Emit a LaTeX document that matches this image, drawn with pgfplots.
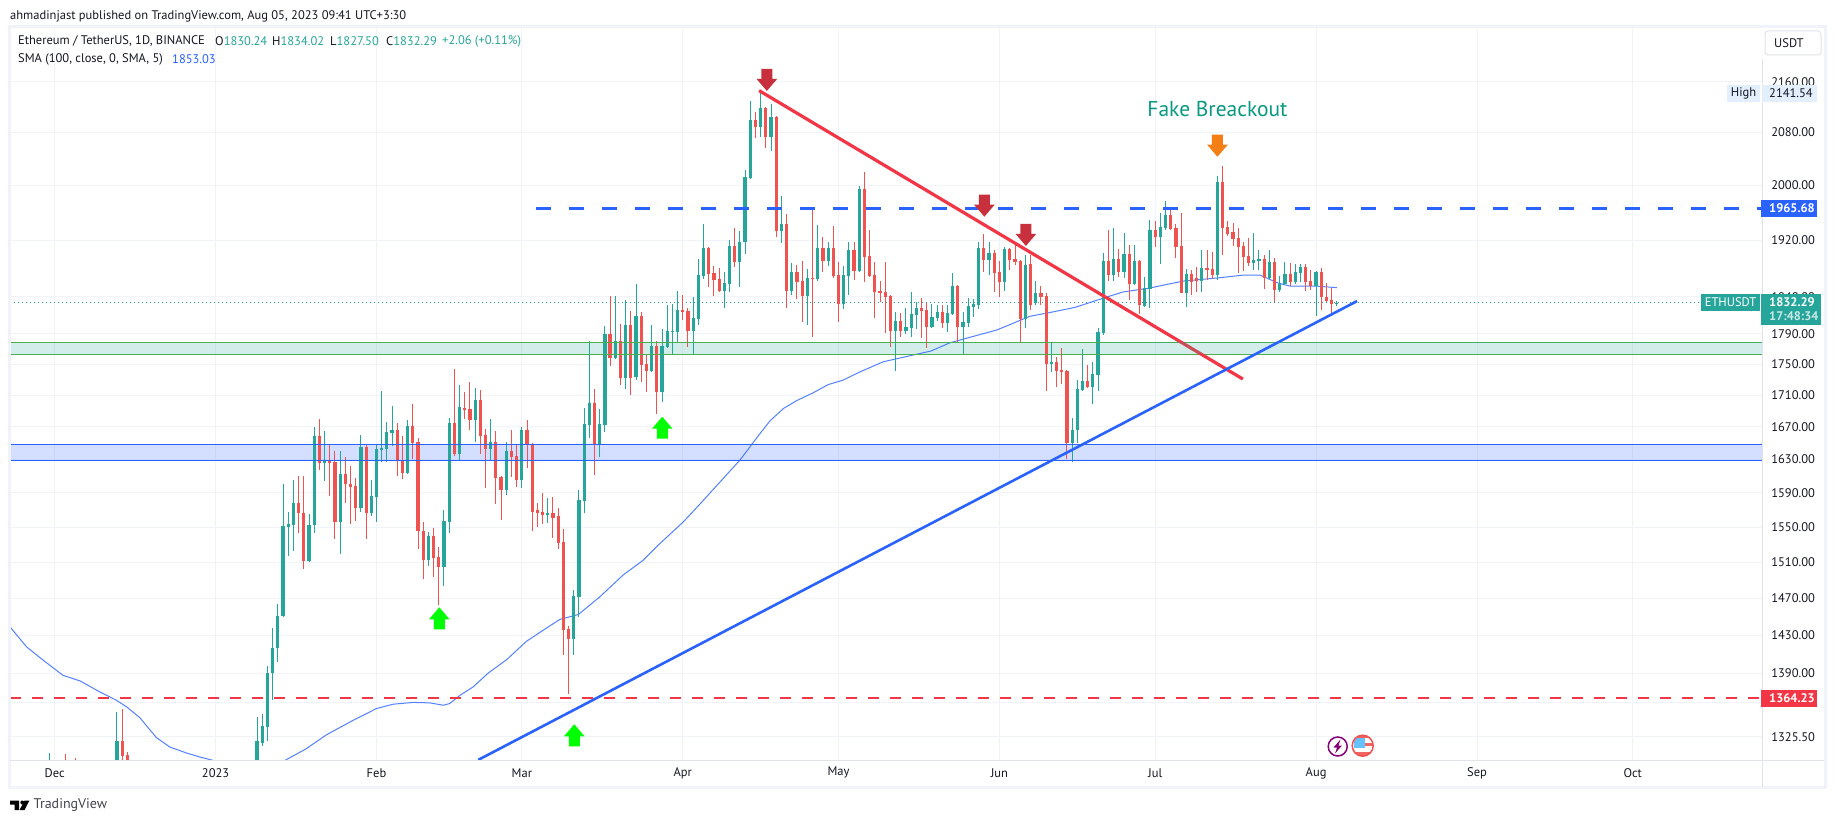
\documentclass[border=0pt]{standalone}
\usepackage{fontspec}
\setmainfont{PT Sans}
\usepackage{pgfplots}
\usepackage{pgfplotstable}
\pgfplotsset{compat=1.18}

\definecolor{tvgreen}{HTML}{26A69A}
\definecolor{tvred}{HTML}{EF5350}
\definecolor{tvblue}{HTML}{2962FF}
\definecolor{lineRed}{HTML}{F23645}
\definecolor{bandGreen}{HTML}{4CAF50}
\definecolor{gridc}{HTML}{F0F3FA}
\definecolor{framec}{HTML}{F0F3FA}
\definecolor{axisc}{HTML}{E0E3EB}
\definecolor{ink}{HTML}{131722}
\definecolor{arrowRed}{HTML}{C9303E}
\definecolor{arrowOrange}{HTML}{F57F17}
\definecolor{arrowGreen}{HTML}{00FF00}
\definecolor{highTag}{HTML}{E3EFFD}
\definecolor{fakeText}{HTML}{089981}

% tip of the arrow sits on the point
\pgfdeclareplotmark{dnarrow}{%
  \pgfpathmoveto{\pgfqpoint{0pt}{0pt}}%
  \pgfpathlineto{\pgfqpoint{10.3pt}{12pt}}%
  \pgfpathlineto{\pgfqpoint{5.5pt}{12pt}}%
  \pgfpathlineto{\pgfqpoint{5.5pt}{22pt}}%
  \pgfpathlineto{\pgfqpoint{-5.5pt}{22pt}}%
  \pgfpathlineto{\pgfqpoint{-5.5pt}{12pt}}%
  \pgfpathlineto{\pgfqpoint{-10.3pt}{12pt}}%
  \pgfpathclose\pgfusepathqfill}
\pgfdeclareplotmark{uparrow}{%
  \pgfpathmoveto{\pgfqpoint{0pt}{0pt}}%
  \pgfpathlineto{\pgfqpoint{10.3pt}{-12pt}}%
  \pgfpathlineto{\pgfqpoint{5.5pt}{-12pt}}%
  \pgfpathlineto{\pgfqpoint{5.5pt}{-22pt}}%
  \pgfpathlineto{\pgfqpoint{-5.5pt}{-22pt}}%
  \pgfpathlineto{\pgfqpoint{-5.5pt}{-12pt}}%
  \pgfpathlineto{\pgfqpoint{-10.3pt}{-12pt}}%
  \pgfpathclose\pgfusepathqfill}

% x is the day counted from 1 Jan 2023
\pgfplotstableread{
d o h l c
-32 1285 1310 1280 1295
-19 1285 1350 1280 1321
8 1290 1345 1285 1321
9 1320 1348 1317 1336
10 1335 1398 1321 1390
11 1390 1438 1362 1416
12 1416 1464 1402 1451
13 1450 1600 1449 1551
14 1550 1567 1517 1553
15 1552 1605 1523 1578
18 1511 1565 1510 1552
19 1552 1670 1543 1659
21 1626 1665 1604 1628
24 1556 1641 1519 1612
28 1572 1660 1568 1645
30 1566 1605 1563 1586
31 1585 1649 1556 1643
32 1642 1715 1627 1644
33 1643 1676 1627 1664
34 1663 1696 1647 1667
37 1614 1679 1613 1671
41 1512 1544 1506 1540
44 1505 1570 1483 1557
45 1556 1681 1543 1675
47 1637 1723 1630 1695
50 1679 1720 1651 1704
53 1643 1680 1629 1651
56 1594 1651 1588 1641
59 1605 1670 1596 1666
64 1564 1584 1555 1566
69 1426 1479 1409 1472
70 1471 1594 1449 1581
71 1580 1694 1566 1674
72 1672 1781 1656 1700
74 1649 1692 1633 1674
75 1672 1801 1664 1790
77 1758 1841 1757 1781
79 1732 1836 1718 1802
81 1733 1858 1730 1814
84 1741 1802 1740 1774
86 1714 1797 1701 1774
87 1773 1829 1772 1794
88 1793 1830 1763 1794
89 1793 1848 1779 1822
92 1794 1840 1763 1811
93 1810 1893 1802 1870
94 1869 1943 1865 1908
98 1848 1875 1825 1859
99 1858 1920 1847 1911
101 1889 1933 1854 1918
102 1917 2023 1900 2012
103 2011 2130 2009 2100
105 2089 2141.54 2073 2118
107 2073 2125 2052 2104
109 1933 1984 1916 1943
111 1848 1887 1843 1875
114 1841 1879 1802 1866
116 1865 1942 1862 1908
118 1890 1918 1883 1908
121 1830 1883 1824 1870
122 1869 1917 1843 1906
124 1876 1999 1875 1994
131 1794 1820 1741 1807
133 1794 1825 1790 1799
134 1798 1847 1786 1817
135 1815 1833 1797 1825
138 1799 1830 1798 1813
139 1811 1829 1807 1820
141 1805 1829 1793 1818
142 1817 1873 1815 1855
144 1799 1820 1763 1806
145 1805 1839 1799 1828
146 1826 1837 1813 1830
147 1829 1918 1824 1908
149 1892 1917 1870 1901
152 1861 1910 1848 1907
156 1810 1899 1798 1884
158 1832 1862 1829 1845
161 1750 1779 1740 1753
165 1650 1681 1627 1667
166 1666 1730 1650 1718
167 1717 1770 1715 1728
169 1721 1753 1699 1737
170 1736 1798 1715 1793
171 1791 1901 1789 1890
173 1870 1937 1862 1893
175 1875 1930 1866 1900
177 1858 1913 1857 1890
179 1828 1868 1827 1852
180 1851 1949 1825 1934
182 1924 1959 1886 1939
183 1937 1977 1934 1956
187 1846 1879 1826 1872
190 1862 1906 1847 1880
193 1870 2014 1864 2005
200 1887 1930 1877 1891
201 1890 1906 1877 1893
203 1866 1906 1865 1889
205 1850 1869 1847 1858
206 1858 1889 1857 1872
208 1861 1886 1858 1875
209 1873 1886 1861 1882
212 1855 1876 1814 1875
216 1830.24 1834.02 1827.50 1832.29
}\upcandles

\pgfplotstableread{
d o h l c
-29 1295 1309 1280 1285
-27 1295 1305 1280 1285
-18 1321 1353 1280 1307
-17 1308 1311 1280 1285
16 1578 1610 1543 1566
17 1566 1610 1502 1511
20 1659 1680 1617 1626
22 1628 1649 1586 1626
23 1627 1641 1536 1556
25 1612 1633 1578 1601
26 1601 1622 1554 1597
27 1598 1608 1557 1572
29 1645 1648 1536 1566
35 1667 1675 1610 1628
36 1629 1659 1606 1614
38 1671 1699 1631 1650
39 1651 1656 1525 1546
40 1546 1556 1491 1512
42 1540 1549 1493 1515
43 1516 1527 1462 1505
46 1675 1744 1634 1637
48 1694 1714 1680 1691
49 1692 1727 1666 1679
51 1704 1717 1637 1659
52 1660 1667 1596 1643
54 1651 1665 1577 1608
55 1609 1610 1558 1594
57 1641 1666 1609 1633
58 1634 1648 1597 1605
60 1666 1679 1620 1648
61 1649 1650 1545 1568
62 1570 1578 1550 1566
63 1567 1590 1554 1564
65 1566 1585 1537 1561
66 1563 1572 1525 1532
67 1533 1548 1409 1436
68 1437 1440 1369 1426
73 1700 1718 1611 1649
76 1790 1841 1748 1758
78 1781 1803 1723 1732
80 1802 1821 1710 1732
82 1814 1820 1727 1749
83 1750 1763 1714 1741
85 1774 1781 1686 1714
90 1822 1843 1809 1820
91 1821 1825 1773 1794
95 1908 1910 1854 1872
96 1873 1883 1841 1864
97 1865 1880 1847 1848
100 1911 1937 1882 1889
104 2100 2112 2072 2089
106 2118 2120 2056 2073
108 2104 2105 1924 1933
110 1943 1958 1825 1848
112 1875 1884 1837 1861
113 1862 1890 1806 1841
115 1866 1965 1786 1865
117 1908 1924 1875 1890
119 1908 1940 1866 1869
120 1870 1889 1806 1830
123 1906 1917 1864 1876
125 1994 2020 1861 1896
126 1897 1934 1868 1869
127 1870 1889 1811 1847
128 1848 1862 1833 1846
129 1847 1889 1791 1840
130 1841 1843 1773 1794
132 1807 1818 1786 1794
136 1825 1839 1785 1821
137 1822 1832 1771 1799
140 1820 1829 1798 1805
143 1855 1856 1778 1799
148 1908 1929 1875 1892
150 1901 1906 1847 1873
151 1875 1890 1840 1861
153 1907 1909 1877 1892
154 1893 1914 1884 1889
155 1890 1892 1778 1810
157 1886 1899 1822 1829
159 1845 1855 1829 1840
160 1841 1846 1716 1750
162 1753 1759 1721 1741
163 1743 1771 1724 1740
164 1741 1742 1631 1650
168 1728 1749 1720 1721
172 1890 1934 1862 1870
174 1893 1907 1868 1875
176 1900 1913 1836 1858
178 1890 1891 1817 1829
181 1934 1947 1910 1924
184 1956 1968 1934 1936
185 1937 1943 1894 1910
186 1911 1959 1845 1846
188 1872 1877 1843 1861
189 1866 1882 1847 1862
191 1880 1906 1864 1877
192 1879 1903 1865 1870
194 2005 2029 1899 1937
195 1939 1947 1926 1929
196 1931 1944 1911 1921
197 1923 1937 1873 1910
198 1911 1917 1876 1896
199 1897 1923 1883 1887
202 1893 1899 1851 1866
204 1889 1894 1833 1850
207 1872 1887 1855 1861
210 1882 1886 1848 1861
211 1862 1877 1850 1855
213 1875 1880 1822 1840
214 1840 1859 1833 1835
215 1836 1852 1817 1830.24
}\downcandles

\pgfplotstableread{
d p
-39.6 1438.8
-36.4 1417.5
-33.2 1403.5
-29.4 1387.8
-26.1 1382
-22.3 1370.7
-19.1 1362.2
-17.1 1355.4
-14.6 1344.7
-11.4 1324.8
-8.8 1315.5
-5.6 1309.7
-3 1305.8
-0.5 1302.5
3 1298
8 1292
13.4 1302.5
17.5 1314
21.4 1327.7
26.5 1342
31 1353.8
34.2 1358.2
38.1 1360
41.3 1359.5
43.9 1357.1
45.1 1358.9
47.1 1367.3
49.6 1375.8
52.5 1390
56.1 1404.2
59.9 1423.5
63.1 1435.2
66.3 1446.8
69.9 1452.2
74 1471.3
78.5 1495.4
82.4 1512.2
85.6 1531.1
90.1 1556
93.3 1576.7
97.2 1603.2
101 1629.3
104.9 1662.1
106.8 1677.7
109.4 1693.3
111.9 1703
115.1 1713.2
118 1723.6
120.9 1729.5
124.1 1740
128.6 1753.3
137.8 1767.4
141.5 1778.4
150.5 1795.3
156.9 1814
160.7 1819
165.6 1826
171.7 1840
174.8 1846.9
180 1852.4
186.4 1862.1
192.9 1866.3
197.9 1870.4
201.2 1870.4
204.7 1859.3
207 1855.2
212.2 1855.2
216 1853.03
}\smaline

\newcommand{\candles}[2]{%
  \addplot[draw=none, mark=none, error bars/.cd, y dir=plus, y explicit, error mark=none,
    error bar style={draw=#2, solid, line width=1pt}]
    table[x=d, y=l, y error expr=\thisrow{h}-\thisrow{l}] {#1};
  \addplot[draw=none, mark=none, error bars/.cd, y dir=plus, y explicit, error mark=none,
    error bar style={draw=#2, solid, line width=3.2pt}]
    table[x=d, y expr={min(\thisrow{o},\thisrow{c})}, y error expr={abs(\thisrow{c}-\thisrow{o})}] {#1};
}

\begin{document}
\fontsize{12.5}{14}\selectfont
\begin{tikzpicture}
\path[use as bounding box, fill=white] (0,0) rectangle (1835pt,823pt);

\begin{axis}[
    at={(10pt,63pt)}, anchor=south west,
    scale only axis, width=1752pt, height=733pt,
    ymode=log,
    xmin=-39.6, xmax=297.9, ymin=1303, ymax=2250.4,
    axis line style={draw=none},
    major tick length=0pt, minor tick length=0pt,
    grid=major,
    grid style={draw=gridc, line width=1pt},
    xtick={-31,0,31,59,90,120,151,181,212,243,273},
    xticklabels={Dec,2023,Feb,Mar,Apr,May,Jun,Jul,Aug,Sep,Oct},
    ytick={2160,2080,2000,1920,1840,1790,1750,1710,1670,1630,1590,1550,1510,1470,1430,1390,1360,1325.5},
    yticklabels={2160.00,2080.00,2000.00,1920.00,1840.00,1790.00,1750.00,1710.00,1670.00,1630.00,1590.00,1550.00,1510.00,1470.00,1430.00,1390.00,1360.00,1325.50},
    yticklabel pos=right,
    xticklabel style={anchor=center, yshift=-13pt, text=ink, font=\fontsize{12.5}{14}\selectfont},
    yticklabel style={anchor=west, xshift=5pt, text=ink, font=\fontsize{12.5}{14}\selectfont},
    clip=true,
]

% blue zone and the left part of the green zone sit under the candles
\addplot[draw=none, fill=tvgreen, fill opacity=0.2] coordinates {(-39.6,1779)(172,1779)(172,1763)(-39.6,1763)} -- cycle;
\addplot[draw=none, fill=tvblue, fill opacity=0.2] coordinates {(-39.6,1648.6)(297.9,1648.6)(297.9,1629.5)(-39.6,1629.5)} -- cycle;

\addplot[tvgreen, line width=1pt, dash pattern=on 1pt off 3pt] coordinates {(-39.6,1832.29)(297.9,1832.29)};

\addplot[tvblue, line width=1pt, opacity=0.8] table[x=d, y=p] {\smaline};

\candles{\upcandles}{tvgreen}
\candles{\downcandles}{tvred}

% zones' borders
\addplot[bandGreen, line width=0.9pt] coordinates {(-39.6,1779)(297.9,1779)};
\addplot[bandGreen, line width=0.9pt] coordinates {(-39.6,1763)(297.9,1763)};
\addplot[tvblue, line width=0.9pt] coordinates {(-39.6,1648.6)(297.9,1648.6)};
\addplot[tvblue, line width=0.9pt] coordinates {(-39.6,1629.5)(297.9,1629.5)};

% resistance and support
\addplot[lineRed, line width=3.2pt] coordinates {(104.7,2146)(197.9,1731)};
\addplot[draw=none, fill=tvgreen, fill opacity=0.2] coordinates {(172,1779)(297.9,1779)(297.9,1763)(172,1763)} -- cycle;
\addplot[tvblue, line width=2.6pt] coordinates {(50.6,1303)(219.9,1834.5)};
\addplot[tvblue, line width=3pt, dash pattern=on 15pt off 18pt] coordinates {(61.7,1965.68)(297.9,1965.68)};
\addplot[lineRed, line width=2pt, dash pattern=on 11pt off 11pt] coordinates {(-39.6,1364.23)(297.9,1364.23)};

% arrows
\addplot[only marks, mark=dnarrow, color=arrowRed, mark options={fill=arrowRed, draw=none}] coordinates {(106.2,2145.5)(148.1,1953.6)(156.1,1911.3)};
\addplot[only marks, mark=dnarrow, color=arrowOrange, mark options={fill=arrowOrange, draw=none}] coordinates {(193,2042.7)};
\addplot[only marks, mark=uparrow, color=arrowGreen, mark options={fill=arrowGreen, draw=none}] coordinates {(43.1,1460)(86.05,1682.8)(69.1,1338)};

\node[text=fakeText, font=\fontsize{21.5}{24}\selectfont] at (axis cs:193,2116) {Fake Breackout};
\end{axis}

% everything below is in picture pixels, y going down
\begin{scope}[shift={(0pt,823pt)}, x=1pt, y=-1pt]
  \draw[framec, line width=3pt] (9.5,27) rectangle (1825,787);
  \draw[axisc, line width=1pt] (1762,59) -- (1762,787);
  \draw[axisc, line width=1pt] (10,760.5) -- (1824,760.5);

  \node[anchor=west, inner sep=0pt, text=ink] at (10,16) {ahmadinjast published on TradingView.com, Aug 05, 2023 09:41 UTC+3:30};

  \node[anchor=west, inner sep=0pt, text=ink] at (18,41) {Ethereum / TetherUS, 1D, BINANCE};
  \node[anchor=west, inner sep=0pt, text=ink] at (215,41) {O\textcolor{tvgreen}{1830.24}};
  \node[anchor=west, inner sep=0pt, text=ink] at (272,41) {H\textcolor{tvgreen}{1834.02}};
  \node[anchor=west, inner sep=0pt, text=ink] at (330,41) {L\textcolor{tvgreen}{1827.50}};
  \node[anchor=west, inner sep=0pt, text=ink] at (386,41) {C\textcolor{tvgreen}{1832.29}};
  \node[anchor=west, inner sep=0pt, text=tvgreen] at (442,41) {+2.06 (+0.11\%)};
  \node[anchor=west, inner sep=0pt, text=ink] at (18,59) {SMA (100, close, 0, SMA, 5)};
  \node[anchor=west, inner sep=0pt, text=tvblue] at (172,59) {1853.03};

  % USDT button
  \draw[axisc, line width=1pt, fill=white, rounded corners=3pt] (1765,31) rectangle (1821,55);
  \node[anchor=west, inner sep=0pt, text=ink] at (1774,43.5) {USDT};

  % price tags
  \fill[highTag] (1727,85) rectangle (1760,101.7);
  \node[inner sep=0pt, text=ink] at (1743.5,93) {High};
  \fill[highTag] (1761.5,85) rectangle (1817,101.7);
  \node[anchor=west, inner sep=0pt, text=ink] at (1769,93.5) {2141.54};

  \fill[tvblue] (1761,200) rectangle (1817,216.7);
  \node[anchor=west, inner sep=0pt, text=white] at (1769,208.5) {\bfseries 1965.68};

  \fill[tvgreen] (1701,294) rectangle (1760,311);
  \node[inner sep=0pt, text=white] at (1730.5,302.5) {ETHUSDT};
  \fill[tvgreen] (1761,294) rectangle (1821,325);
  \node[anchor=west, inner sep=0pt, text=white] at (1769,302.5) {\bfseries 1832.29};
  \node[anchor=west, inner sep=0pt, text=white!75!tvgreen] at (1769,316.5) {\bfseries 17:48:34};

  \fill[lineRed] (1761,689.5) rectangle (1817,706.5);
  \node[anchor=west, inner sep=0pt, text=white] at (1769,698) {\bfseries 1364.23};

  % event icons
  \draw[purple!70!blue, line width=1.5pt, fill=white] (1337.7,746.5) circle (9.5);
  \fill[purple!70!blue] (1340.5,739.5) -- (1333.5,747.5) -- (1337,747.5) -- (1335,753.5) -- (1342,745.5) -- (1338.5,745.5) -- cycle;
  \begin{scope}
    \clip (1362.7,745.7) circle (10.5);
    \fill[white] (1351,734) rectangle (1375,757);
    \fill[tvred!90] (1351,734) rectangle (1375,738);
    \fill[tvred!90] (1362,743) rectangle (1375,746);
    \fill[tvred!90] (1351,752) rectangle (1375,757);
    \fill[blue!40!cyan!60] (1354,738) rectangle (1364.5,748);
  \end{scope}
  \draw[tvred, line width=1.5pt] (1362.7,745.7) circle (10.5);

  % footer logo
  \fill[black] (10,800.7) -- (19,800.7) -- (19,810) -- (14.5,810) -- (14.5,804.5) -- (10,804.5) -- cycle;
  \fill[black] (22.3,802.5) circle (2);
  \fill[black] (24.5,800.7) -- (29.3,800.7) -- (24.5,810) -- (19.5,810) -- cycle;
  \node[anchor=west, inner sep=0pt, text=ink!80, font=\fontsize{14}{16}\selectfont] at (33.5,805) {TradingView};
\end{scope}
\end{tikzpicture}
\end{document}
